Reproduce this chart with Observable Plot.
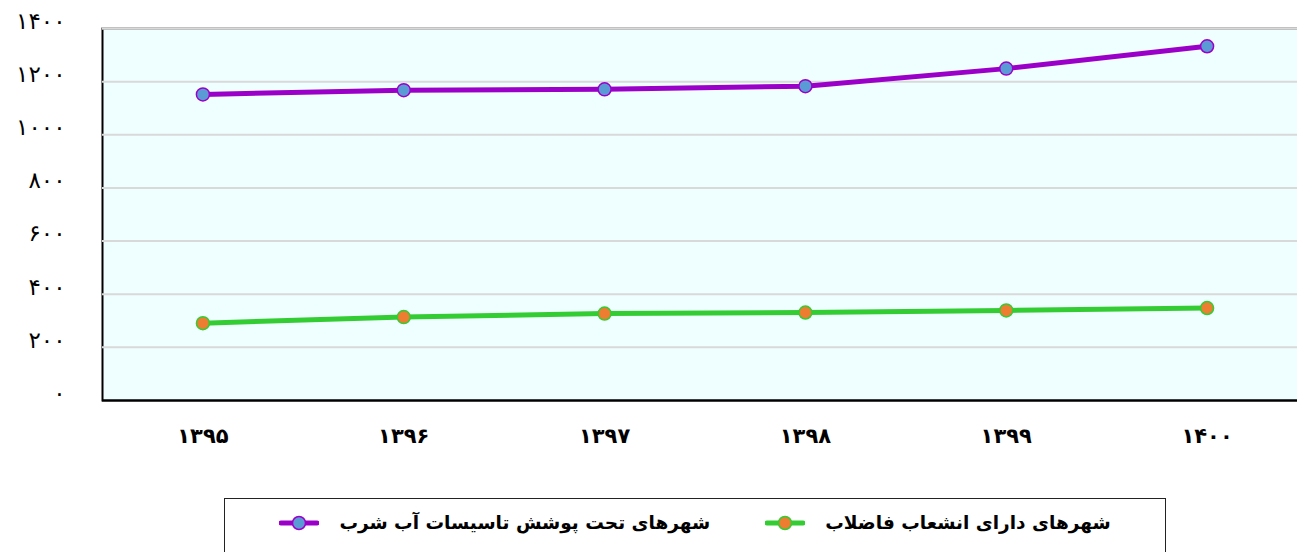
<!DOCTYPE html>
<html>
<head>
<meta charset="utf-8">
<script src="https://cdn.jsdelivr.net/npm/d3@7"></script>
<script src="https://cdn.jsdelivr.net/npm/@observablehq/plot@0.6"></script>
<style>
  html, body { margin: 0; padding: 0; background: white; overflow: hidden; }
  #chart svg { display: block; overflow: hidden; max-width: none; }
  #legend {
    position: absolute; left: 224px; top: 498px; width: 942px; height: 70px;
    border: 1.5px solid #222; box-sizing: border-box;
    display: flex; justify-content: center; align-items: flex-start; padding-top: 13px;
    font-family: "DejaVu Sans", sans-serif; font-weight: bold; font-size: 18.5px; color: #000;
  }
  .item { display: flex; align-items: center; }
  .item + .item { margin-left: 55px; }
  .item svg { margin-right: 20px; }
</style>
</head>
<body>
<div id="chart"></div>
<div id="legend"></div>
<script>
// Categories (Persian years) and series values
const years = ["۱۳۹۵", "۱۳۹۶", "۱۳۹۷", "۱۳۹۸", "۱۳۹۹", "۱۴۰۰"];
const waterCities = [1152, 1168, 1171, 1183, 1249, 1333];
const sewerCities = [291, 314, 327, 331, 339, 348];
const seriesNames = ["شهرهای تحت پوشش تاسیسات آب شرب", "شهرهای دارای انشعاب فاضلاب"];
const lineColors = ["#9b00c9", "#33cc33"];
const dotColors = ["#5b9bd5", "#ed7d31"];
const yTicks = [0, 200, 400, 600, 800, 1000, 1200, 1400];
const yTickLabels = ["۰", "۲۰۰", "۴۰۰", "۶۰۰", "۸۰۰", "۱۰۰۰", "۱۲۰۰", "۱۴۰۰"];

const data = [];
years.forEach((y, i) => {
  data.push({year: y, value: waterCities[i], series: seriesNames[0]});
  data.push({year: y, value: sewerCities[i], series: seriesNames[1]});
});

const font = "DejaVu Sans, sans-serif";
const chart = Plot.plot({
  width: 1297,
  height: 470,
  marginLeft: 102,
  marginRight: -10,
  marginTop: 28,
  marginBottom: 70,
  style: {fontFamily: font, background: "white"},
  x: {type: "band", domain: years, padding: 0, round: false},
  y: {domain: [0, 1400]},
  color: {domain: seriesNames, range: lineColors},
  marks: [
    Plot.frame({fill: "#efffff", stroke: "black", strokeWidth: 2}),
    Plot.ruleY(yTicks.slice(1, -1), {stroke: "#d9d9d9", strokeWidth: 2}),
    Plot.ruleY([1400], {stroke: "#d9d9d9", strokeWidth: 2.5}),
    Plot.ruleY([0], {stroke: "black", strokeWidth: 2}),
    Plot.axisY({
      ticks: yTicks, tickFormat: (d) => yTickLabels[yTicks.indexOf(d)],
      tickSize: 0, tickPadding: 37, fontSize: 23, dy: -7, label: null
    }),
    Plot.axisX({tickSize: 0, tickPadding: 28, fontSize: 21, fontWeight: "bold", label: null}),
    Plot.line(data, {x: "year", y: "value", z: "series", stroke: "series", strokeWidth: 5}),
    Plot.dot(data.filter(d => d.series === seriesNames[0]), {x: "year", y: "value", r: 6.5, fill: dotColors[0], stroke: lineColors[0], strokeWidth: 1.5}),
    Plot.dot(data.filter(d => d.series === seriesNames[1]), {x: "year", y: "value", r: 6.5, fill: dotColors[1], stroke: lineColors[1], strokeWidth: 1.5})
  ]
});
document.getElementById("chart").appendChild(chart);

// Legend (left: water, right: sewer)
const legend = document.getElementById("legend");
[0, 1].forEach(i => {
  const item = document.createElement("div");
  item.className = "item";
  item.innerHTML = `<svg width="40" height="16"><line x1="2" x2="38" y1="8" y2="8" stroke="${lineColors[i]}" stroke-width="5" stroke-linecap="round"/><circle cx="20" cy="8" r="6.5" fill="${dotColors[i]}" stroke="${lineColors[i]}" stroke-width="1.5"/></svg><span dir="rtl">${seriesNames[i]}</span>`;
  legend.appendChild(item);
});
</script>
</body>
</html>
